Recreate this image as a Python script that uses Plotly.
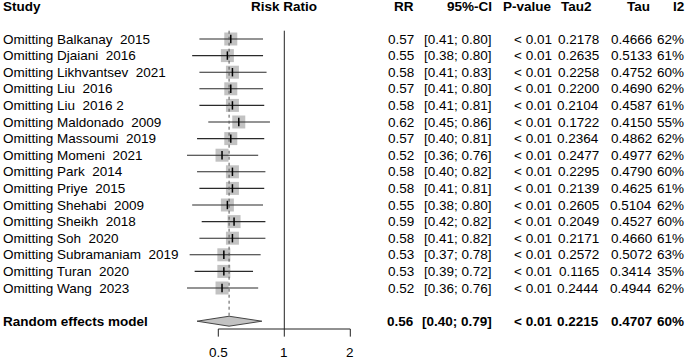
import math
import plotly.graph_objects as go

# ---------------- data ----------------
studies = ["Balkanay  2015", "Djaiani  2016", "Likhvantsev  2021", "Liu  2016",
           "Liu  2016 2", "Maldonado  2009", "Massoumi  2019", "Momeni  2021",
           "Park  2014", "Priye  2015", "Shehabi  2009", "Sheikh  2018",
           "Soh  2020", "Subramaniam  2019", "Turan  2020", "Wang  2023"]
rr = [0.57, 0.55, 0.58, 0.57, 0.58, 0.62, 0.57, 0.52, 0.58, 0.58, 0.55, 0.59, 0.58, 0.53, 0.53, 0.52]
lower = [0.41, 0.38, 0.41, 0.41, 0.41, 0.45, 0.40, 0.36, 0.40, 0.41, 0.38, 0.42, 0.41, 0.37, 0.39, 0.36]
upper = [0.80, 0.80, 0.83, 0.80, 0.81, 0.86, 0.81, 0.76, 0.82, 0.81, 0.80, 0.82, 0.82, 0.78, 0.72, 0.76]
pval = ["< 0.01"] * 16
tau2 = [0.2178, 0.2635, 0.2258, 0.2200, 0.2104, 0.1722, 0.2364, 0.2477, 0.2295, 0.2139, 0.2605, 0.2049, 0.2171, 0.2572, 0.1165, 0.2444]
tau = [0.4666, 0.5133, 0.4752, 0.4690, 0.4587, 0.4150, 0.4862, 0.4977, 0.4790, 0.4625, 0.5104, 0.4527, 0.4660, 0.5072, 0.3414, 0.4944]
i2 = [62, 61, 60, 62, 61, 55, 62, 62, 60, 61, 62, 60, 61, 63, 35, 62]

pooled_label = "Random effects model"
pooled_rr, pooled_lo, pooled_hi = 0.56, 0.40, 0.79
pooled_p, pooled_tau2, pooled_tau, pooled_i2 = "< 0.01", 0.2215, 0.4707, 60

headers = ["Study", "Risk Ratio", "RR", "95%-CI", "P-value", "Tau2", "Tau", "I2"]
tick_vals = [0.5, 1, 2]
tick_labels = ["0.5", "1", "2"]

# ---------------- layout helpers ----------------
W, H = 685, 359
FONT = "Liberation Sans, Arial, sans-serif"
FS = 13.5
k = 0.30103 / 66.0          # log10 units per pixel
x0 = -284.3 * k
x1 = x0 + W * k
row_px0, row_step = 39.0, 16.6
y_top = -row_px0 / row_step
y_bot = (H - row_px0) / row_step
n = len(studies)
pooled_row = 17
axis_row = 17.47
tick_row = 17.93
ticklab_row = 18.86
header_row = -1.93

def px(xpix):
    return xpix / W

fig = go.Figure()

rows = list(range(n))

# squares
fig.add_trace(go.Scatter(x=rr, y=rows, mode="markers",
                         marker=dict(symbol="square", size=13, color="#C2C2C2",
                                     line=dict(width=0)),
                         hoverinfo="skip", showlegend=False))
# CI lines
cx, cy = [], []
for i in range(n):
    cx += [lower[i], upper[i], None]
    cy += [i, i, None]
fig.add_trace(go.Scatter(x=cx, y=cy, mode="lines", line=dict(color="#2a2a2a", width=1.1),
                         hoverinfo="skip", showlegend=False))
# estimate ticks
fig.add_trace(go.Scatter(x=rr, y=rows, mode="markers",
                         marker=dict(symbol="line-ns", size=6,
                                     line=dict(width=1.5, color="black")),
                         hoverinfo="skip", showlegend=False))
# no-effect line
fig.add_trace(go.Scatter(x=[1, 1], y=[-0.5, axis_row], mode="lines",
                         line=dict(color="#222222", width=1),
                         hoverinfo="skip", showlegend=False))
# pooled dotted line
fig.add_trace(go.Scatter(x=[pooled_rr, pooled_rr], y=[-0.5, pooled_row - 0.3], mode="lines",
                         line=dict(color="#555555", width=1, dash="dot"),
                         hoverinfo="skip", showlegend=False))
# diamond
fig.add_trace(go.Scatter(x=[pooled_lo, pooled_rr, pooled_hi, pooled_rr, pooled_lo],
                         y=[pooled_row, pooled_row - 0.3, pooled_row, pooled_row + 0.3, pooled_row],
                         mode="lines", fill="toself", fillcolor="#C2C2C2",
                         line=dict(color="#444444", width=1),
                         hoverinfo="skip", showlegend=False))
# axis line and ticks
ax_x = [tick_vals[0], tick_vals[0], tick_vals[-1], tick_vals[-1], None]
ax_y = [tick_row, axis_row, axis_row, tick_row, None]
for t in tick_vals[1:-1]:
    ax_x += [t, t, None]
    ax_y += [axis_row, tick_row, None]
fig.add_trace(go.Scatter(x=ax_x, y=ax_y, mode="lines", line=dict(color="#222222", width=1),
                         hoverinfo="skip", showlegend=False))

ann = []
def text(xp, y, s, anchor="right", bold=False):
    ann.append(dict(x=px(xp), xref="paper", y=y, yref="y",
                    text=("<b>%s</b>" % s) if bold else s, showarrow=False,
                    xanchor=anchor, yanchor="middle", borderpad=0,
                    font=dict(family=FONT, size=FS, color="black")))

# tick labels (annotation x on a log axis is given in log10 units)
for v, lab in zip(tick_vals, tick_labels):
    ann.append(dict(x=math.log10(v), xref="x", y=ticklab_row, yref="y", text=lab,
                    showarrow=False, xanchor="center", yanchor="middle", borderpad=0,
                    font=dict(family=FONT, size=FS, color="black")))

# headers
text(2, header_row, headers[0], "left", True)
text(284, header_row, headers[1], "center", True)
text(415, header_row, headers[2], "right", True)
text(493, header_row, headers[3], "right", True)
text(553, header_row, headers[4], "right", True)
text(593, header_row, headers[5], "right", True)
text(651, header_row, headers[6], "right", True)
text(685, header_row, headers[7], "right", True)

def nb(s):
    return s.replace("  ", "\u00a0 ")

for i in range(n):
    text(2, i, nb("Omitting " + studies[i]), "left")
    text(415, i, "%.2f" % rr[i])
    text(493, i, "[%.2f; %.2f]" % (lower[i], upper[i]))
    text(553, i, pval[i])
    text(600, i, "%.4f" % tau2[i])
    text(653, i, "%.4f" % tau[i])
    text(685, i, "%d%%" % i2[i])

text(2, pooled_row, pooled_label, "left", True)
text(415, pooled_row, "%.2f" % pooled_rr, bold=True)
text(493, pooled_row, "[%.2f; %.2f]" % (pooled_lo, pooled_hi), bold=True)
text(553, pooled_row, pooled_p, bold=True)
text(600, pooled_row, "%.4f" % pooled_tau2, bold=True)
text(653, pooled_row, "%.4f" % pooled_tau, bold=True)
text(685, pooled_row, "%d%%" % pooled_i2, bold=True)

fig.update_layout(
    width=W, height=H, margin=dict(l=0, r=0, t=0, b=0),
    paper_bgcolor="white", plot_bgcolor="white",
    xaxis=dict(type="log", range=[x0, x1], visible=False, fixedrange=True),
    yaxis=dict(range=[y_bot, y_top], visible=False, fixedrange=True),
    annotations=ann, showlegend=False,
)

fig.write_html("out.html", config={"displayModeBar": False},
               post_script="document.body.style.margin='0';document.body.style.overflow='hidden';")
